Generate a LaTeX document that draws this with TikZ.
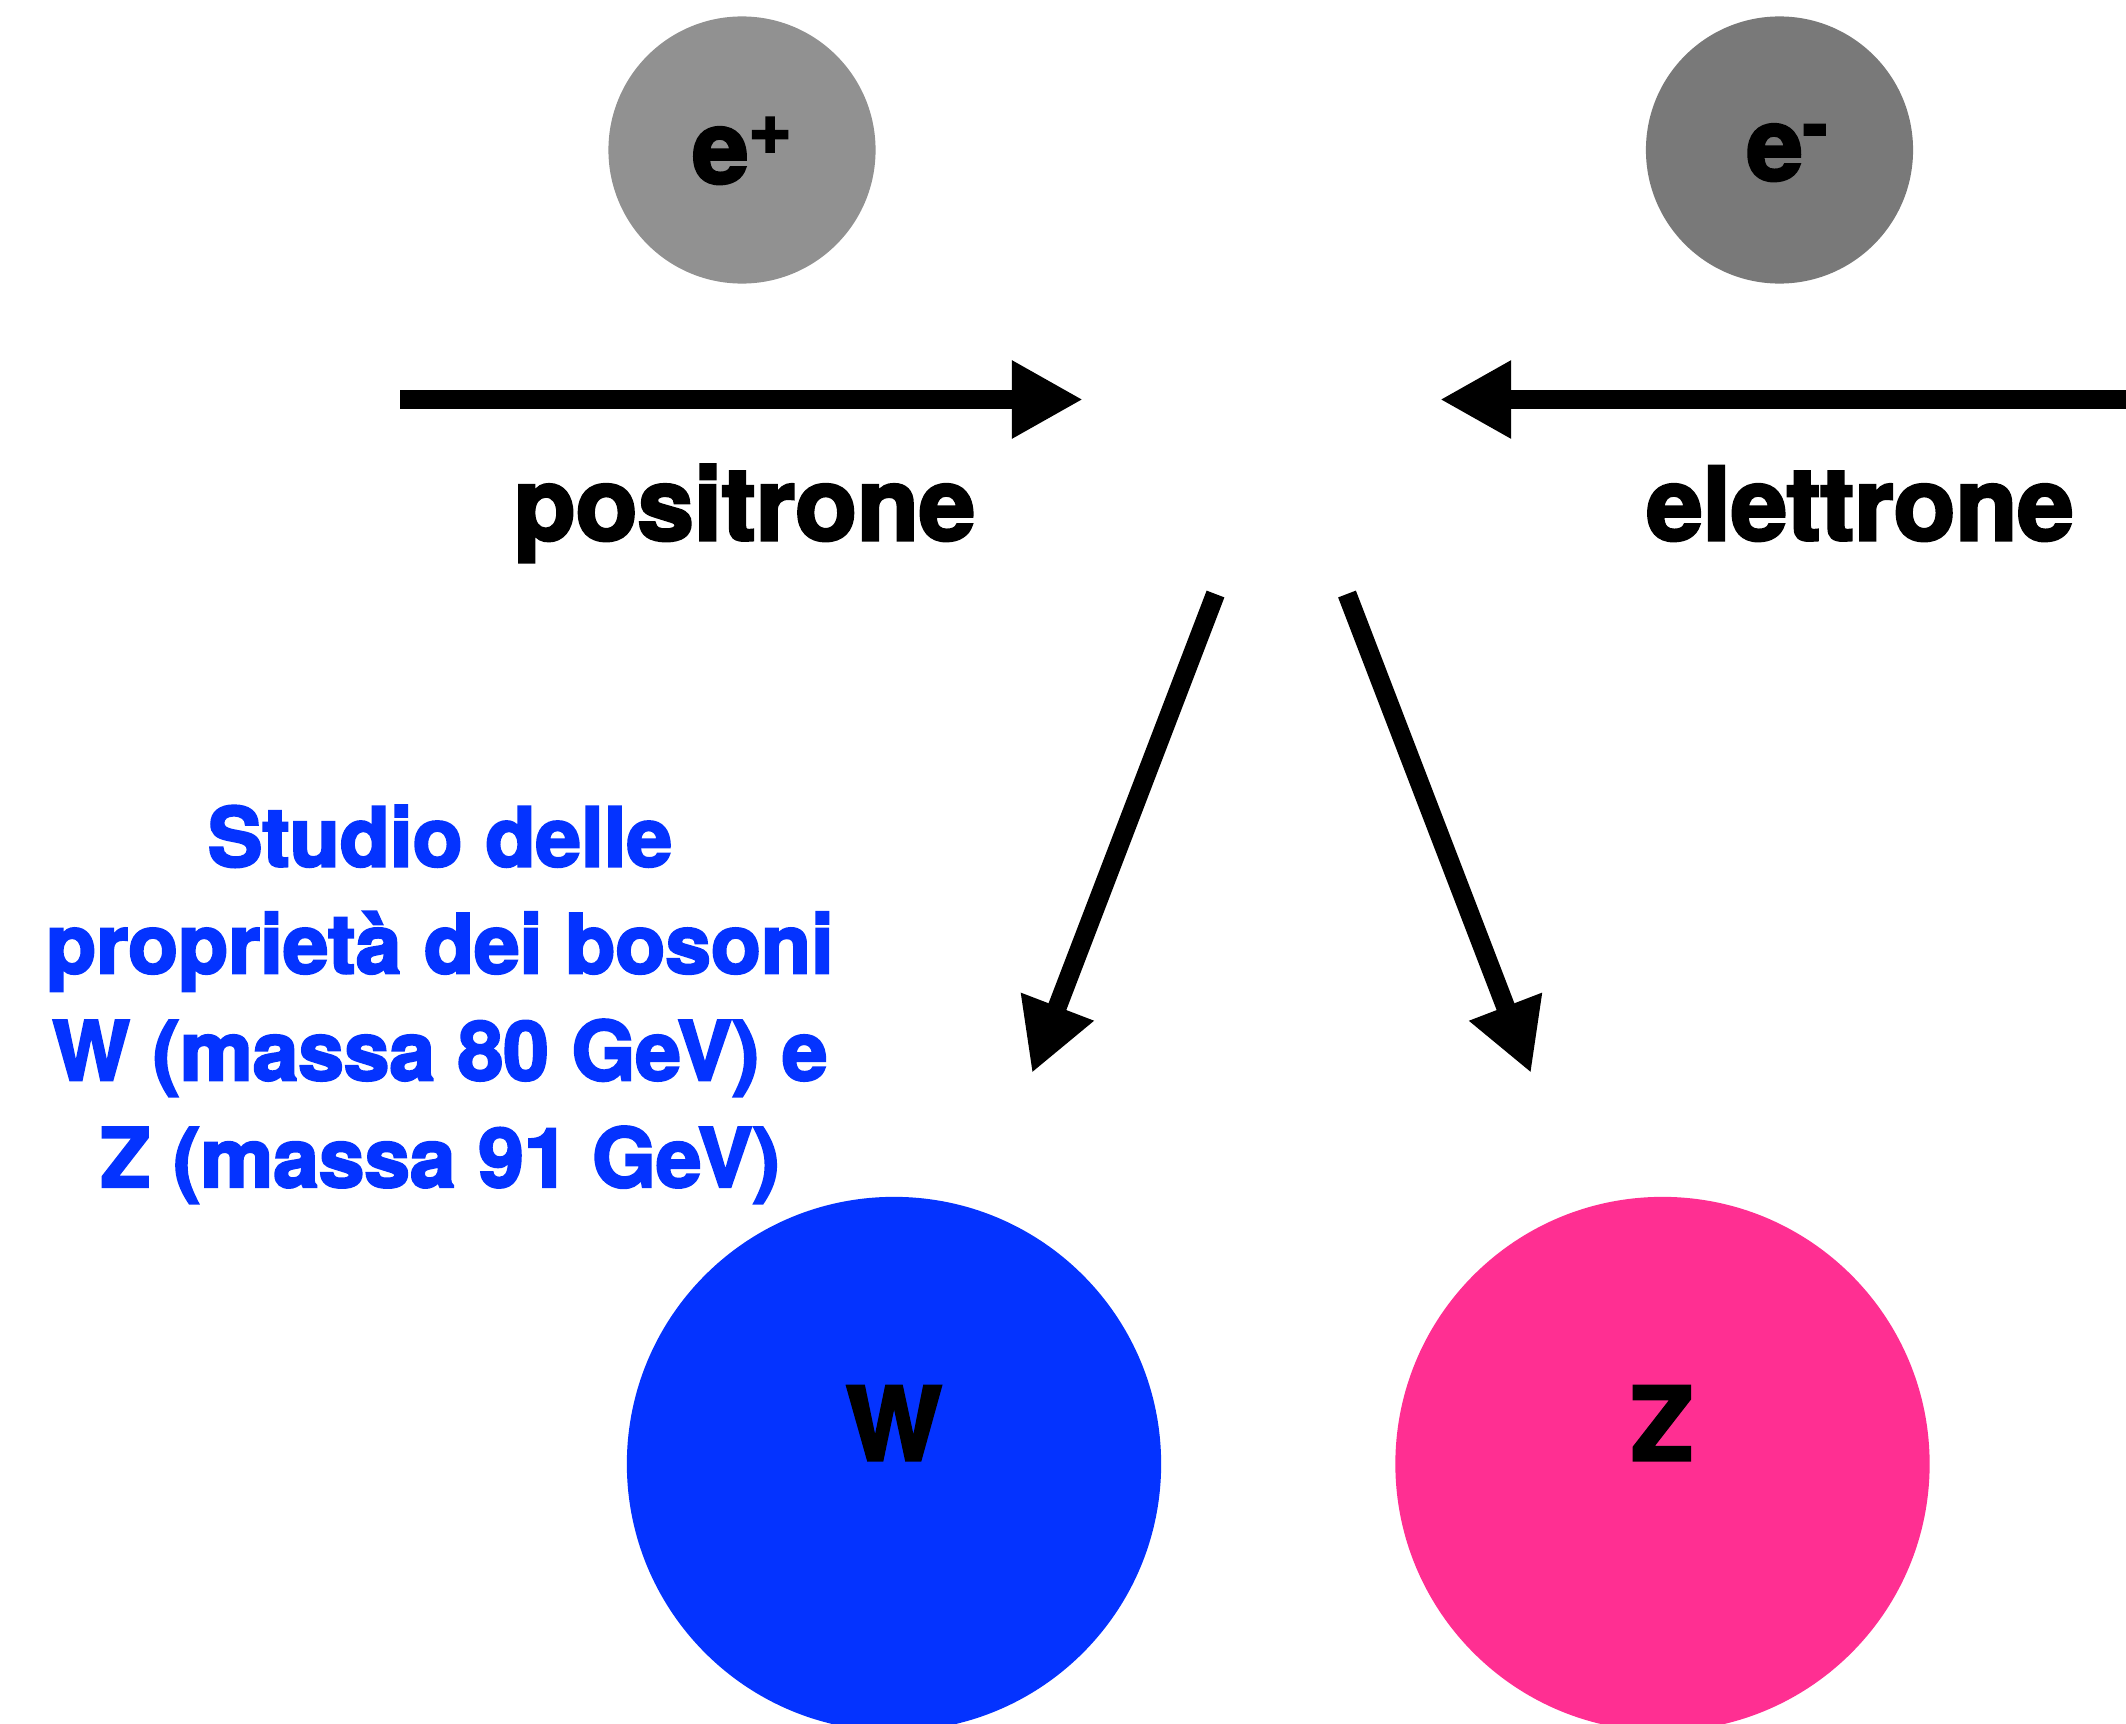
\documentclass[tikz,border=0pt]{standalone}
\usepackage{fontspec}
\newfontfamily\heavy{TeX Gyre Heros}[BoldFeatures={FakeBold=3}]
\usetikzlibrary{arrows.meta}
\definecolor{tin}{HTML}{919191}
\definecolor{steel}{HTML}{797979}
\definecolor{blueberry}{HTML}{0433FF}
\definecolor{strawberry}{HTML}{FF2F92}
\tikzset{
  ball/.style={circle, draw=none, inner sep=0pt, minimum size=#1},
  lbl/.style={font={\heavy\bfseries\fontsize{28.8pt}{34pt}\selectfont}, inner sep=0pt, anchor=base},
  note/.style={font={\heavy\bfseries\fontsize{23.3pt}{30.4pt}\selectfont}, text=blueberry,
    align=center, inner sep=0pt, anchor=base},
  beam/.style={line width=1.9mm, -{Triangle[length=7.1mm, width=7.3mm]}},
}
\newcommand{\supplus}{\raisebox{8.5pt}{\fontsize{21pt}{21pt}\selectfont +}}
\newcommand{\supminus}{\raisebox{8.5pt}{\fontsize{21pt}{21pt}\selectfont -}}
\begin{document}
\begin{tikzpicture}[x=0.01cm, y=-0.01cm]
  \useasboundingbox (0,0) rectangle (2126,1724);
  \clip (0,0) rectangle (2126,1724);

  % incoming particles
  \node[ball=2.67cm, fill=tin]   (positron) at (742,150) {};
  \node[ball=2.67cm, fill=steel] (electron) at (1779.5,150) {};
  \node[lbl] (eplus)  at (742,183)  {e\supplus};
  \node[lbl] (eminus) at (1787,180) {e\supminus};

  % beam directions
  \coordinate (pstart) at (400,399.5);
  \coordinate (pend)   at (1083,399.5);
  \coordinate (estart) at (2126,399.5);
  \coordinate (eend)   at (1440,399.5);
  \draw[beam] (pstart) -- (pend);
  \draw[beam] (estart) -- (eend);
  \node[lbl] (plabel) at (744.5,540) {positrone};
  \node[lbl] (elabel) at (1860,540)  {elettrone};

  % produced bosons
  \node[ball=5.34cm, fill=blueberry]  (wboson) at (894,1464) {};
  \node[ball=5.34cm, fill=strawberry] (zboson) at (1662.5,1464) {};
  \node[lbl] (wlabel) at (894,1460)  {W};
  \node[lbl] (zlabel) at (1662,1460) {Z};

  \coordinate (wstart) at (1215.5,594);
  \coordinate (wtip)   at (1032,1073);
  \coordinate (zstart) at (1347,594);
  \coordinate (ztip)   at (1531,1073);
  \draw[beam] (wstart) -- (wtip);
  \draw[beam] (zstart) -- (ztip);

  % caption, anchored on the baseline of its last line
  \node[note] (study) at (440,1187)
    {Studio delle\\proprietà dei bosoni\\W (massa 80 GeV) e\\Z (massa 91 GeV)};
\end{tikzpicture}
\end{document}
